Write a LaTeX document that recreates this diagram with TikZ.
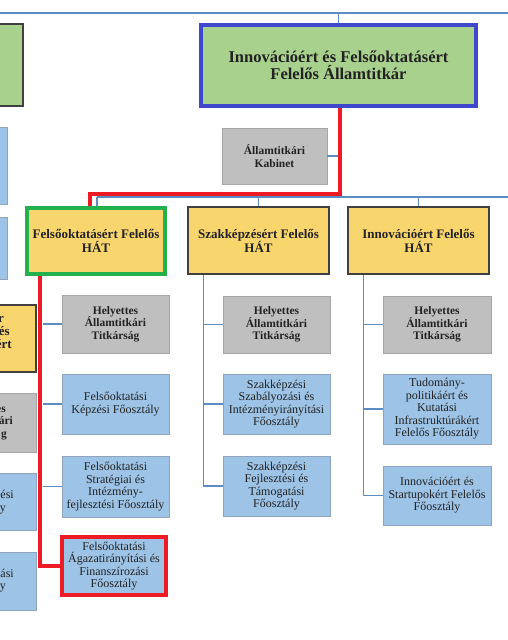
\documentclass[tikz,border=0pt]{standalone}
\usepackage{fontspec}
\setmainfont{Liberation Serif}
\definecolor{txt}{HTML}{222222}
\definecolor{mgreen}{HTML}{A9D18E}
\definecolor{mblue}{HTML}{3F48CC}
\definecolor{hgreen}{HTML}{22B14C}
\definecolor{redc}{HTML}{ED1C24}
\definecolor{yfill}{HTML}{F9D56E}
\definecolor{hborder}{HTML}{404040}
\definecolor{gfill}{HTML}{BFBFBF}
\definecolor{gborder}{HTML}{A6A6A6}
\definecolor{bfill}{HTML}{9DC3E6}
\definecolor{bborder}{HTML}{8EA5BD}
\definecolor{lblue}{HTML}{5B8CC4}
\begin{document}
\begin{tikzpicture}[x=1pt,y=-1pt,
  box/.style={rectangle,inner sep=0pt,align=center,text=txt},
  bluebox/.style={box,fill=bfill,draw=bborder,line width=0.8pt,font=\fontsize{12}{12.5}\selectfont},
  graybox/.style={box,fill=gfill,draw=gborder,line width=0.8pt,font=\bfseries\fontsize{11.5}{12.5}\selectfont},
  hatbox/.style={box,fill=yfill,draw=hborder,line width=1.3pt,font=\bfseries\fontsize{13}{14}\selectfont},
  conn/.style={draw=lblue,line width=1.4pt},
  redconn/.style={draw=redc,line width=3.5pt},
  frag/.style={anchor=base east,inner sep=0pt,text=txt},
]
\useasboundingbox (0,0) rectangle (508,640);

% partial boxes at the left edge
\draw[fill=mgreen,draw=hborder,line width=1.2pt] (-10,24) rectangle (23,106);
\draw[fill=bfill,draw=bborder,line width=0.8pt] (-10,127) rectangle (7,204);
\draw[fill=bfill,draw=bborder,line width=0.8pt] (-10,217) rectangle (7,279);
\draw[fill=yfill,draw=hborder,line width=1.3pt] (-10,305) rectangle (36,372);
\draw[fill=gfill,draw=gborder,line width=0.8pt] (-10,393) rectangle (36,452);
\draw[fill=bfill,draw=bborder,line width=0.8pt] (-10,473) rectangle (36,530);
\draw[fill=bfill,draw=bborder,line width=0.8pt] (-10,552) rectangle (36,610);
\node[frag,font=\bfseries\fontsize{13}{14}\selectfont] (p1) at (4,322) {r};
\node[frag,font=\bfseries\fontsize{13}{14}\selectfont] (p2) at (10,335) {és};
\node[frag,font=\bfseries\fontsize{13}{14}\selectfont] (p3) at (12,348) {ért};
\node[frag,font=\bfseries\fontsize{11.5}{12.5}\selectfont] (p4) at (6,412) {es};
\node[frag,font=\bfseries\fontsize{11.5}{12.5}\selectfont] (p5) at (13,424) {ári};
\node[frag,font=\bfseries\fontsize{11.5}{12.5}\selectfont] (p6) at (7,437) {g};
\node[frag,font=\fontsize{12}{12.5}\selectfont] (p7) at (14,498) {ési};
\node[frag,font=\fontsize{12}{12.5}\selectfont] (p8) at (6,511) {y};
\node[frag,font=\fontsize{12}{12.5}\selectfont] (p9) at (14,577) {lási};
\node[frag,font=\fontsize{12}{12.5}\selectfont] (p10) at (6,589) {y};

% main box
\node[box,fill=mgreen,draw=mblue,line width=4pt,minimum width=275pt,minimum height=81pt,
  font=\bfseries\fontsize{16.5}{17}\selectfont] (main) at (338.5,65.5)
  {Innovációért és Felsőoktatásért\\Felelős Államtitkár};
\node[graybox,minimum width=105pt,minimum height=56pt] (kab) at (274.5,156) {Államtitkári\\Kabinet};

% HAT boxes
\node[hatbox,draw=hgreen,line width=4pt,minimum width=138pt,minimum height=66pt] (hat1) at (96,241) {Felsőoktatásért Felelős\\HÁT};
\node[hatbox,minimum width=141pt,minimum height=67pt] (hat2) at (258.5,240.5) {Szakképzésért Felelős\\HÁT};
\node[hatbox,minimum width=141pt,minimum height=67pt] (hat3) at (418.5,240.5) {Innovációért Felelős\\HÁT};

% left column
\node[graybox,minimum width=107pt,minimum height=58pt] (lh) at (115.5,324) {Helyettes\\Államtitkári\\Titkárság};
\node[bluebox,minimum width=107pt,minimum height=60pt] (lk) at (115.5,404) {Felsőoktatási\\Képzési Főosztály};
\node[bluebox,minimum width=107pt,minimum height=61pt] (ls) at (115.5,486.5) {Felsőoktatási\\Stratégiai és\\Intézmény-\\fejlesztési Főosztály};
\node[bluebox,draw=redc,line width=4pt,minimum width=104pt,minimum height=58pt] (lr) at (114,566) {Felsőoktatási\\Ágazatirányítási és\\Finanszírozási\\Főosztály};

% middle column
\node[graybox,minimum width=107pt,minimum height=57pt] (mh) at (276.5,324.5) {Helyettes\\Államtitkári\\Titkárság};
\node[bluebox,minimum width=107pt,minimum height=60pt] (ms) at (276.5,404) {Szakképzési\\Szabályozási és\\Intézményirányítási\\Főosztály};
\node[bluebox,minimum width=107pt,minimum height=60pt] (mf) at (276.5,486) {Szakképzési\\Fejlesztési és\\Támogatási\\Főosztály};

% right column
\node[graybox,minimum width=108pt,minimum height=57pt] (rh) at (437,324.5) {Helyettes\\Államtitkári\\Titkárság};
\node[bluebox,minimum width=108pt,minimum height=70pt] (rt) at (437,409) {Tudomány-\\politikáért és\\Kutatási\\Infrastruktúrákért\\Felelős Főosztály};
\node[bluebox,minimum width=108pt,minimum height=59pt] (rs) at (437,495.5) {Innovációért és\\Startupokért Felelős\\Főosztály};

% free ends
\coordinate (tl) at (0,13);
\coordinate (tr) at (510,13);
\coordinate (bl) at (97,197);
\coordinate (br) at (510,197);
\coordinate (rj) at (340,194);
\coordinate (lj) at (90,194);

% top connectors
\draw[conn] (tl) -- (tr);
\draw[conn] (main.north |- tl) -- (main.north);
\draw[conn] (bl) -- (br);
\draw[conn] (bl) -- (bl |- hat1.north);
\draw[conn] (hat2.north |- bl) -- (hat2.north);
\draw[conn] (hat3.north |- bl) -- (hat3.north);
\draw[conn] (kab.east) -- (kab.east -| rj);

% red path from main box to the first HAT
\draw[redconn] (main.south -| rj) -- (rj) -- (lj) -- (lj |- hat1.north);

% left column connectors
\draw[conn] ([xshift=18pt]hat1.south west |- lh.west) -- (lh.west);
\draw[conn] ([xshift=18pt]hat1.south west |- lk.west) -- (lk.west);
\draw[conn] ([xshift=18pt]hat1.south west |- ls.west) -- (ls.west);
\draw[redconn] ([xshift=15pt]hat1.south west) |- (lr.west);

% middle column connectors
\draw[conn] ([xshift=16pt]hat2.south west) |- (mf.west);
\draw[conn] ([xshift=16pt]hat2.south west |- mh.west) -- (mh.west);
\draw[conn] ([xshift=16pt]hat2.south west |- ms.west) -- (ms.west);

% right column connectors
\draw[conn] ([xshift=16pt]hat3.south west) |- (rs.west);
\draw[conn] ([xshift=16pt]hat3.south west |- rh.west) -- (rh.west);
\draw[conn] ([xshift=16pt]hat3.south west |- rt.west) -- (rt.west);
\end{tikzpicture}
\end{document}
